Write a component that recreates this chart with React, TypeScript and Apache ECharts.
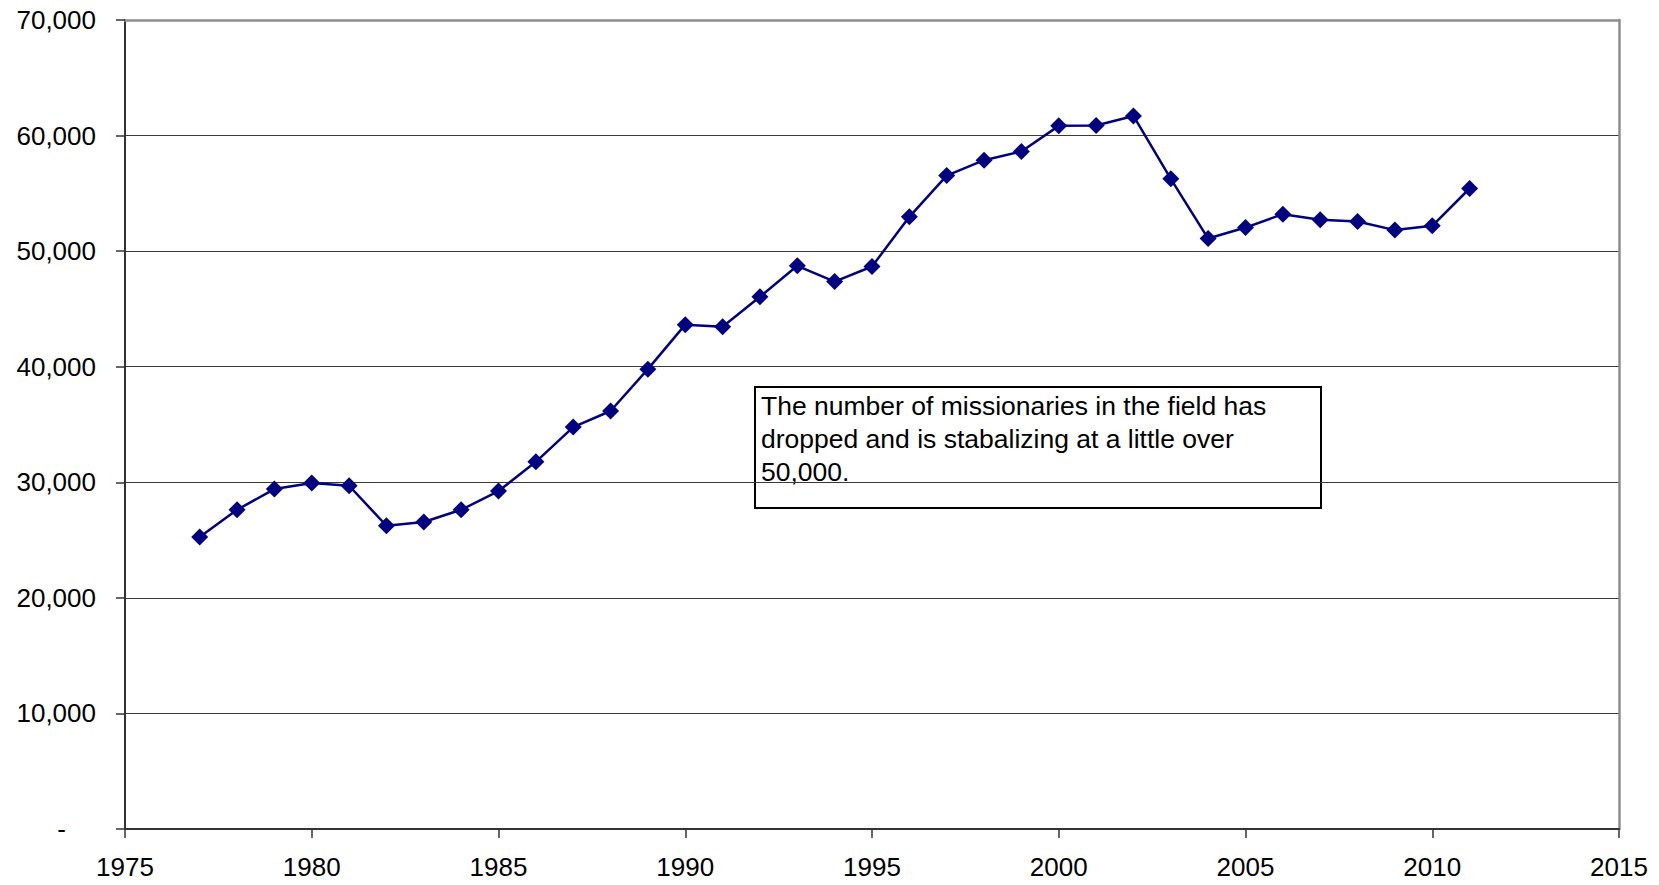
import React, { useEffect, useRef } from "react";
import * as echarts from "echarts";

const years = [1977, 1978, 1979, 1980, 1981, 1982, 1983, 1984, 1985, 1986, 1987, 1988, 1989, 1990, 1991, 1992, 1993, 1994, 1995, 1996, 1997, 1998, 1999, 2000, 2001, 2002, 2003, 2004, 2005, 2006, 2007, 2008, 2009, 2010, 2011];
const missionaries = [25260, 27620, 29410, 29930, 29700, 26240, 26560, 27620, 29240, 31770, 34780, 36170, 39790, 43640, 43460, 46050, 48730, 47370, 48670, 52970, 56540, 57870, 58620, 60840, 60870, 61700, 56260, 51090, 52040, 53200, 52710, 52560, 51820, 52190, 55420];
const noteLines = [
  "The number of missionaries in the field has",
  "dropped and is stabalizing at a little over",
  "50,000.",
];

const FONT = "'Liberation Sans', Arial, sans-serif";

export default function App() {
  const ref = useRef<HTMLDivElement>(null);
  useEffect(() => {
    if (!ref.current) return;
    const chart = echarts.init(ref.current, undefined, { renderer: "svg" });
    const data = years.map((y, i) => [y, missionaries[i]]);
    chart.setOption({
      animation: false,
      backgroundColor: "#ffffff",
      textStyle: { fontFamily: FONT },
      grid: { left: 125, right: 40, top: 20, bottom: 56, containLabel: false },
      xAxis: [
        {
          type: "value",
          min: 1975,
          max: 2015,
          interval: 5,
          position: "bottom",
          axisLine: { show: true, lineStyle: { color: "#333333", width: 2 } },
          axisTick: { show: true, inside: false, length: 9, lineStyle: { color: "#333333", width: 1.5 } },
          axisLabel: { color: "#000", fontSize: 26, fontFamily: FONT, margin: 25, formatter: (v: number) => String(v) },
          splitLine: { show: false },
        },
        {
          type: "value",
          min: 1975,
          max: 2015,
          interval: 5,
          position: "top",
          axisLine: { show: true, onZero: false, lineStyle: { color: "#8c8c8c", width: 2.5 } },
          axisTick: { show: false },
          axisLabel: { show: false },
          splitLine: { show: false },
        },
      ],
      yAxis: [
        {
          type: "value",
          min: 0,
          max: 70000,
          interval: 10000,
          position: "left",
          axisLine: { show: true, lineStyle: { color: "#333333", width: 2 } },
          axisTick: { show: true, inside: false, length: 9, lineStyle: { color: "#333333", width: 1.5 } },
          axisLabel: {
            color: "#000",
            fontSize: 26,
            fontFamily: FONT,
            margin: 29,
            formatter: (v: number) => (v === 0 ? "{d|-}" : v.toLocaleString("en-US")),
            rich: { d: { fontSize: 26, fontFamily: FONT, color: "#000", padding: [0, 30, 0, 0] } },
          },
          splitLine: { show: true, lineStyle: { color: "#3a3a3a", width: 1 } },
        },
        {
          type: "value",
          min: 0,
          max: 70000,
          interval: 10000,
          position: "right",
          axisLine: { show: true, onZero: false, lineStyle: { color: "#8c8c8c", width: 2.5 } },
          axisTick: { show: false },
          axisLabel: { show: false },
          splitLine: { show: false },
        },
      ],
      series: [
        {
          type: "line",
          xAxisIndex: 0,
          yAxisIndex: 0,
          data,
          symbol: "diamond",
          symbolSize: 17,
          lineStyle: { color: "#000080", width: 2.5 },
          itemStyle: { color: "#000080" },
          z: 5,
        },
      ],
      graphic: [
        {
          type: "group",
          left: 754,
          top: 386,
          z: 100,
          children: [
            {
              type: "rect",
              shape: { x: 0, y: 0, width: 566, height: 121 },
              style: { fill: "#ffffff", stroke: "#000000", lineWidth: 2 },
            },
            ...noteLines.map((t, i) => ({
              type: "text",
              x: 6,
              y: 5 + i * 33,
              style: { text: t, fill: "#000", font: `26.5px ${FONT}`, textVerticalAlign: "top" },
            })),
          ],
        },
      ],
    });
    return () => chart.dispose();
  }, []);
  return <div ref={ref} style={{ position: "absolute", left: 0, top: 0, width: 1659, height: 885 }} />;
}
